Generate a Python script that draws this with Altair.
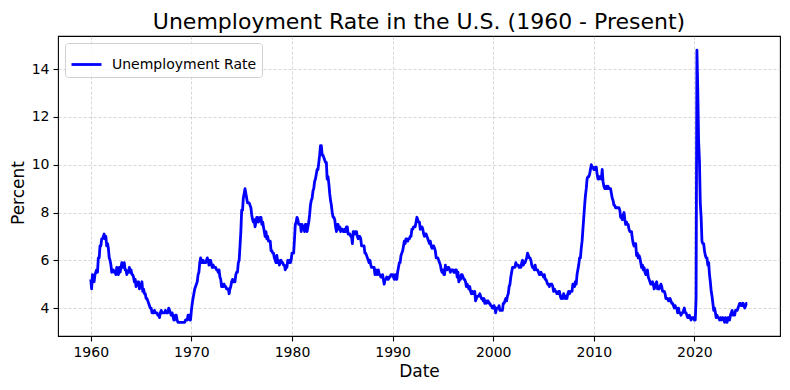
import altair as alt
import pandas as pd

# Monthly U.S. unemployment rate (%), Jan 1960 - Apr 2025, one list per decade
rate_1960s = [
    5.2, 4.8, 5.4, 5.2, 5.1, 5.4, 5.5, 5.6, 5.5, 6.1, 6.1, 6.6,
    6.6, 6.9, 6.9, 7.0, 7.1, 6.9, 7.0, 6.6, 6.7, 6.5, 6.1, 6.0,
    5.8, 5.5, 5.6, 5.6, 5.5, 5.5, 5.4, 5.7, 5.6, 5.4, 5.7, 5.5,
    5.7, 5.9, 5.7, 5.7, 5.9, 5.6, 5.6, 5.4, 5.5, 5.5, 5.7, 5.5,
    5.6, 5.4, 5.4, 5.3, 5.1, 5.2, 4.9, 5.0, 5.1, 5.1, 4.8, 5.0,
    4.9, 5.1, 4.7, 4.8, 4.6, 4.6, 4.4, 4.4, 4.3, 4.2, 4.1, 4.0,
    4.0, 3.8, 3.8, 3.8, 3.9, 3.8, 3.8, 3.8, 3.7, 3.7, 3.6, 3.8,
    3.9, 3.8, 3.8, 3.8, 3.8, 3.9, 3.8, 3.8, 3.8, 4.0, 3.9, 3.8,
    3.7, 3.8, 3.7, 3.5, 3.5, 3.7, 3.7, 3.5, 3.4, 3.4, 3.4, 3.4,
    3.4, 3.4, 3.4, 3.4, 3.4, 3.5, 3.5, 3.5, 3.7, 3.7, 3.5, 3.5,
]
rate_1970s = [
    3.9, 4.2, 4.4, 4.6, 4.8, 4.9, 5.0, 5.1, 5.4, 5.5, 5.9, 6.1,
    5.9, 5.9, 6.0, 5.9, 5.9, 5.9, 6.0, 6.1, 6.0, 5.8, 6.0, 6.0,
    5.8, 5.7, 5.8, 5.7, 5.7, 5.7, 5.6, 5.6, 5.5, 5.6, 5.3, 5.2,
    4.9, 5.0, 4.9, 5.0, 4.9, 4.9, 4.8, 4.8, 4.8, 4.6, 4.8, 4.9,
    5.1, 5.2, 5.1, 5.1, 5.1, 5.4, 5.5, 5.5, 5.9, 6.0, 6.6, 7.2,
    8.1, 8.1, 8.6, 8.8, 9.0, 8.8, 8.6, 8.4, 8.4, 8.4, 8.3, 8.2,
    7.9, 7.7, 7.6, 7.7, 7.4, 7.6, 7.8, 7.8, 7.6, 7.7, 7.8, 7.8,
    7.5, 7.6, 7.4, 7.2, 7.0, 7.2, 6.9, 7.0, 6.8, 6.8, 6.8, 6.4,
    6.4, 6.3, 6.3, 6.1, 6.0, 5.9, 6.2, 5.9, 6.0, 5.8, 5.9, 6.0,
    5.9, 5.9, 5.8, 5.8, 5.6, 5.7, 5.7, 6.0, 5.9, 6.0, 5.9, 6.0,
]
rate_1980s = [
    6.3, 6.3, 6.3, 6.9, 7.5, 7.6, 7.8, 7.7, 7.5, 7.5, 7.5, 7.2,
    7.5, 7.4, 7.4, 7.2, 7.5, 7.5, 7.2, 7.4, 7.6, 7.9, 8.3, 8.5,
    8.6, 8.9, 9.0, 9.3, 9.4, 9.6, 9.8, 9.8, 10.1, 10.4, 10.8, 10.8,
    10.4, 10.4, 10.3, 10.2, 10.1, 10.1, 9.4, 9.5, 9.2, 8.8, 8.5, 8.3,
    8.0, 7.8, 7.8, 7.7, 7.4, 7.2, 7.5, 7.5, 7.3, 7.4, 7.2, 7.3,
    7.3, 7.2, 7.2, 7.3, 7.2, 7.4, 7.4, 7.1, 7.1, 7.1, 7.0, 7.0,
    6.7, 7.2, 7.2, 7.1, 7.2, 7.2, 7.0, 6.9, 7.0, 7.0, 6.9, 6.6,
    6.6, 6.6, 6.6, 6.3, 6.3, 6.2, 6.1, 6.0, 5.9, 6.0, 5.8, 5.7,
    5.7, 5.7, 5.7, 5.4, 5.6, 5.4, 5.4, 5.6, 5.4, 5.4, 5.3, 5.3,
    5.4, 5.2, 5.0, 5.2, 5.2, 5.3, 5.2, 5.2, 5.3, 5.3, 5.4, 5.4,
]
rate_1990s = [
    5.4, 5.3, 5.2, 5.4, 5.4, 5.2, 5.5, 5.7, 5.9, 5.9, 6.2, 6.3,
    6.4, 6.6, 6.8, 6.7, 6.9, 6.9, 6.8, 6.9, 6.9, 7.0, 7.0, 7.3,
    7.3, 7.4, 7.4, 7.4, 7.6, 7.8, 7.7, 7.6, 7.6, 7.3, 7.4, 7.4,
    7.3, 7.1, 7.0, 7.1, 7.1, 7.0, 6.9, 6.8, 6.7, 6.8, 6.6, 6.5,
    6.6, 6.6, 6.5, 6.4, 6.1, 6.1, 6.1, 6.0, 5.9, 5.8, 5.6, 5.5,
    5.6, 5.4, 5.4, 5.8, 5.6, 5.6, 5.7, 5.7, 5.6, 5.5, 5.6, 5.6,
    5.6, 5.5, 5.5, 5.6, 5.6, 5.3, 5.5, 5.1, 5.2, 5.2, 5.4, 5.4,
    5.3, 5.2, 5.2, 5.1, 4.9, 5.0, 4.9, 4.8, 4.9, 4.7, 4.6, 4.7,
    4.6, 4.6, 4.7, 4.3, 4.4, 4.5, 4.5, 4.5, 4.6, 4.5, 4.4, 4.4,
    4.3, 4.4, 4.2, 4.3, 4.2, 4.3, 4.3, 4.2, 4.2, 4.1, 4.1, 4.0,
]
rate_2000s = [
    4.0, 4.1, 4.0, 3.8, 4.0, 4.0, 4.0, 4.1, 3.9, 3.9, 3.9, 3.9,
    4.2, 4.2, 4.3, 4.4, 4.3, 4.5, 4.6, 4.9, 5.0, 5.3, 5.5, 5.7,
    5.7, 5.7, 5.7, 5.9, 5.8, 5.8, 5.8, 5.7, 5.7, 5.7, 5.9, 6.0,
    5.8, 5.9, 5.9, 6.0, 6.1, 6.3, 6.2, 6.1, 6.1, 6.0, 5.8, 5.7,
    5.7, 5.6, 5.8, 5.6, 5.6, 5.6, 5.5, 5.4, 5.4, 5.5, 5.4, 5.4,
    5.3, 5.4, 5.2, 5.2, 5.1, 5.0, 5.0, 4.9, 5.0, 5.0, 5.0, 4.9,
    4.7, 4.8, 4.7, 4.7, 4.6, 4.6, 4.7, 4.7, 4.5, 4.4, 4.5, 4.4,
    4.6, 4.5, 4.4, 4.5, 4.4, 4.6, 4.7, 4.6, 4.7, 4.7, 4.7, 5.0,
    5.0, 4.9, 5.1, 5.0, 5.4, 5.6, 5.8, 6.1, 6.1, 6.5, 6.8, 7.3,
    7.8, 8.3, 8.7, 9.0, 9.4, 9.5, 9.5, 9.6, 9.8, 10.0, 9.9, 9.9,
]
rate_2010s = [
    9.8, 9.8, 9.9, 9.9, 9.6, 9.4, 9.4, 9.5, 9.5, 9.4, 9.8, 9.3,
    9.1, 9.0, 9.0, 9.1, 9.0, 9.1, 9.0, 9.0, 9.0, 8.8, 8.6, 8.5,
    8.3, 8.3, 8.2, 8.2, 8.2, 8.2, 8.2, 8.1, 7.8, 7.8, 7.7, 7.9,
    8.0, 7.7, 7.5, 7.6, 7.5, 7.5, 7.3, 7.2, 7.2, 7.2, 6.9, 6.7,
    6.6, 6.7, 6.7, 6.2, 6.3, 6.1, 6.2, 6.1, 5.9, 5.7, 5.8, 5.6,
    5.7, 5.5, 5.4, 5.4, 5.6, 5.3, 5.2, 5.1, 5.0, 5.0, 5.1, 5.0,
    4.8, 4.9, 5.0, 5.1, 4.8, 4.9, 4.8, 4.9, 5.0, 4.9, 4.7, 4.7,
    4.7, 4.6, 4.4, 4.4, 4.4, 4.3, 4.3, 4.4, 4.3, 4.2, 4.2, 4.1,
    4.0, 4.1, 4.0, 4.0, 3.8, 4.0, 3.8, 3.8, 3.7, 3.8, 3.8, 3.9,
    4.0, 3.8, 3.8, 3.7, 3.6, 3.6, 3.7, 3.6, 3.5, 3.6, 3.6, 3.6,
]
rate_2020s = [
    3.5, 3.5, 4.4, 14.8, 13.2, 11.0, 10.2, 8.4, 7.8, 6.8, 6.7, 6.7,
    6.4, 6.2, 6.1, 6.1, 5.8, 5.9, 5.4, 5.1, 4.7, 4.5, 4.2, 3.9,
    4.0, 3.8, 3.6, 3.7, 3.6, 3.6, 3.5, 3.6, 3.5, 3.6, 3.6, 3.5,
    3.4, 3.6, 3.5, 3.4, 3.6, 3.6, 3.5, 3.7, 3.8, 3.9, 3.7, 3.7,
    3.7, 3.9, 3.9, 3.9, 4.0, 4.1, 4.2, 4.2, 4.1, 4.1, 4.2, 4.1,
    4.0, 4.1, 4.2, 4.2,
]

series_name = "Unemployment Rate"
year_ticks = [1960, 1970, 1980, 1990, 2000, 2010, 2020]
percent_ticks = [4, 6, 8, 10, 12, 14]

values = rate_1960s + rate_1970s + rate_1980s + rate_1990s + rate_2000s + rate_2010s + rate_2020s
dates = pd.date_range("1960-01-01", periods=len(values), freq="MS")
df = pd.DataFrame({
    "Date": dates.strftime("%Y-%m-%d"),
    "Percent": values,
    "Series": series_name,
})

FONT = "DejaVu Sans"

line = alt.Chart(df).mark_line(strokeWidth=2.8, strokeJoin="round").encode(
    x=alt.X(
        "Date:T",
        scale=alt.Scale(
            type="utc",
            domain=[alt.DateTime(year=1956, month=9, date=28, utc=True),
                    alt.DateTime(year=2028, month=7, date=4, utc=True)],
            nice=False,
        ),
        axis=alt.Axis(
            title="Date",
            values=[alt.DateTime(year=y, month=1, date=1, utc=True) for y in year_ticks],
            format="%Y",
            formatType="utc",
            titleX=361,
            titleY=40.7,
            titleAlign="center",
            titleBaseline="alphabetic",
        ),
    ),
    y=alt.Y(
        "Percent:Q",
        scale=alt.Scale(domain=[2.83, 15.39], nice=False, zero=False),
        axis=alt.Axis(
            title="Percent",
            values=percent_ticks,
            titleAngle=270,
            titleX=-35,
            titleY=156.5,
            titleAlign="center",
            titleBaseline="alphabetic",
        ),
    ),
    color=alt.Color(
        "Series:N",
        scale=alt.Scale(domain=[series_name], range=["#0000ff"]),
        legend=alt.Legend(
            title=None,
            orient="none",
            legendX=7,
            legendY=7,
            symbolType="stroke",
            symbolSize=900,
            symbolStrokeWidth=2.8,
            labelOffset=9,
            labelFontSize=14,
            labelFont=FONT,
            labelColor="black",
            padding=5,
            fillColor="rgba(255,255,255,0.8)",
            strokeColor="#d0d0d0",
            cornerRadius=3,
        ),
    ),
)

chart = line.properties(
    width=722,
    height=300,
    autosize=alt.AutoSizeParams(type="none"),
    padding={"left": 50, "top": 28, "right": 2, "bottom": 46},
    title=alt.TitleParams(
        "Unemployment Rate in the U.S. (1960 - Present)",
        fontSize=22,
        font=FONT,
        fontWeight="normal",
        color="black",
        anchor="middle",
        baseline="alphabetic",
        offset=8,
        dy=23,
    ),
).configure(
    font=FONT,
    background="white",
).configure_view(
    stroke="black",
    strokeWidth=1.1,
).configure_axis(
    domain=False,
    grid=True,
    gridColor="#b0b0b0",
    gridDash=[3, 2],
    gridWidth=0.6,
    gridOpacity=0.85,
    tickColor="black",
    tickSize=5,
    tickWidth=1.1,
    labelFont=FONT,
    labelFontSize=14,
    labelColor="black",
    labelPadding=4,
    titleFont=FONT,
    titleFontSize=17,
    titleFontWeight="normal",
    titleColor="black",
)

chart.save("out.html", embed_options={"renderer": "svg", "actions": False})
